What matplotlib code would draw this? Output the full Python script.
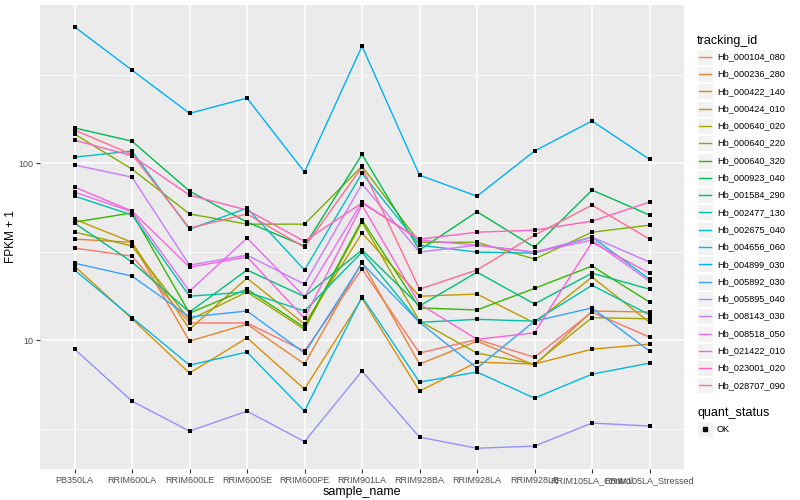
import numpy as np
import matplotlib
matplotlib.use("Agg")
import matplotlib.pyplot as plt
from matplotlib.lines import Line2D
from matplotlib.patches import Rectangle

plt.rcParams['font.family'] = ['Liberation Sans', 'DejaVu Sans']

samples = ["PB350LA", "RRIM600LA", "RRIM600LE", "RRIM600SE", "RRIM600PE", "RRIM901LA",
           "RRIM928BA", "RRIM928LA", "RRIM928LE", "RRIM105LA_Control", "RRIM105LA_Stressed"]

# FPKM + 1 per gene, one value per sample
hb_000104_080 = [33.1, 29.8, 12.5, 12.5, 8.67, 25.2, 8.45, 10.1, 8.0, 14.4, 10.4]
hb_000236_280 = [37.2, 35.7, 9.87, 12.3, 7.32, 27.6, 7.32, 9.87, 7.22, 14.6, 14.4]
hb_000422_140 = [26.2, 13.2, 6.51, 10.3, 5.29, 17.2, 5.15, 7.51, 7.32, 8.89, 9.49]
hb_000424_010 = [48.2, 35.7, 11.5, 22.4, 12.3, 40.2, 17.7, 18.2, 12.5, 22.7, 12.6]
hb_000640_020 = [40.8, 34.0, 13.0, 18.7, 11.5, 46.4, 12.8, 8.45, 7.32, 13.4, 13.2]
hb_000640_220 = [146, 92.5, 51.6, 45.2, 45.2, 96, 35.7, 35.7, 28.7, 40.7, 44.6]
hb_000640_320 = [46.4, 52.3, 14.2, 19.4, 11.8, 47.6, 15.2, 14.8, 19.6, 26.2, 16.4]
hb_000923_040 = [158, 133, 69.5, 46.4, 34.0, 112, 32.3, 53.1, 33.5, 70.4, 50.9]
hb_001584_290 = [45.8, 27.6, 14.4, 24.9, 17.6, 32.3, 15.6, 24.2, 16.0, 23.9, 19.4]
hb_002477_130 = [65.1, 50.9, 17.7, 18.7, 14.6, 31.4, 12.6, 13.1, 12.8, 20.4, 13.9]
hb_002675_040 = [108, 117, 42.3, 55.7, 24.9, 87.6, 34.4, 31.4, 31.0, 38.2, 22.1]
hb_004656_060 = [24.9, 13.4, 7.22, 8.56, 3.97, 17.6, 5.79, 6.60, 4.70, 6.42, 7.41]
hb_004899_030 = [589, 335, 191, 233, 89, 458, 85.5, 65, 117, 173, 105]
hb_005892_030 = [27.2, 23.0, 13.5, 14.6, 8.45, 27.2, 12.6, 6.95, 12.8, 15.2, 8.67]
hb_005895_040 = [8.9, 4.52, 3.06, 3.97, 2.67, 6.69, 2.83, 2.45, 2.52, 3.40, 3.27]
hb_008143_030 = [97.5, 83.3, 26.5, 30.2, 20.7, 76.2, 31.4, 34.4, 31.4, 38.2, 27.6]
hb_008518_050 = [68.6, 53.1, 18.9, 37.7, 17.6, 60.2, 36.7, 34.4, 31.4, 36.7, 21.5]
hb_021422_010 = [73.2, 53.6, 25.8, 29.5, 13.3, 57.9, 16.0, 10.1, 11.0, 35.7, 23.9]
hb_023001_020 = [134.9, 110, 65.9, 54.3, 36.2, 59.5, 37.2, 40.7, 41.8, 47.0, 60.2]
hb_028707_090 = [153.6, 112, 42.9, 51.6, 33.5, 94.9, 19.4, 24.9, 39.2, 57.9, 37.2]

tracking_ids = ["Hb_000104_080", "Hb_000236_280", "Hb_000422_140", "Hb_000424_010",
                "Hb_000640_020", "Hb_000640_220", "Hb_000640_320", "Hb_000923_040",
                "Hb_001584_290", "Hb_002477_130", "Hb_002675_040", "Hb_004656_060",
                "Hb_004899_030", "Hb_005892_030", "Hb_005895_040", "Hb_008143_030",
                "Hb_008518_050", "Hb_021422_010", "Hb_023001_020", "Hb_028707_090"]
series = [hb_000104_080, hb_000236_280, hb_000422_140, hb_000424_010, hb_000640_020,
          hb_000640_220, hb_000640_320, hb_000923_040, hb_001584_290, hb_002477_130,
          hb_002675_040, hb_004656_060, hb_004899_030, hb_005892_030, hb_005895_040,
          hb_008143_030, hb_008518_050, hb_021422_010, hb_023001_020, hb_028707_090]
colors = ["#F8766D", "#EA8331", "#D89000", "#C09B00", "#A3A500", "#7CAE00", "#39B600",
          "#00BB4E", "#00BF7D", "#00C1A3", "#00BFC4", "#00BAE0", "#00B0F6", "#35A2FF",
          "#9590FF", "#C77CFF", "#E76BF3", "#FA62DB", "#FF62BC", "#FF6C91"]

fig = plt.figure(figsize=(8, 5), dpi=100)
ax = fig.add_axes([0.05, 0.062, 0.805, 0.928])
ax.set_facecolor("#EBEBEB")

x = np.arange(len(samples))
for vals, c in zip(series, colors):
    ax.plot(x, vals, color=c, lw=1.0, zorder=2)
for vals in series:
    ax.scatter(x, vals, marker="s", s=9, color="black", zorder=3, linewidths=0)

ax.set_yscale("log")
ax.set_ylim(1.87, 782)
ax.set_xlim(-0.6, len(samples) - 0.4)
ax.set_yticks([10, 100])
ax.set_yticklabels(["10", "100"])
ax.set_yticks([10 ** 0.5, 10 ** 1.5, 10 ** 2.5], minor=True)
ax.set_yticklabels([], minor=True)
ax.set_xticks(x)
ax.set_xticklabels(samples)
ax.grid(which="major", color="white", lw=1.1, zorder=0)
ax.grid(which="minor", axis="y", color="white", lw=0.55, zorder=0)
ax.set_axisbelow(True)
for s in ax.spines.values():
    s.set_visible(False)
ax.tick_params(which="major", length=3, color="#333333", labelsize=6.5, labelcolor="#4D4D4D", pad=2)
ax.tick_params(which="minor", length=0)
ax.set_xlabel("sample_name", fontsize=9, labelpad=1)
ax.set_ylabel("FPKM + 1", fontsize=8.5, labelpad=1)

# legends
fig.text(697 / 800, 1 - 41 / 500, "tracking_id", fontsize=9, va="center", ha="left")
for i, (tid, c) in enumerate(zip(tracking_ids, colors)):
    yc = 56.7 + 17.3 * i
    fig.patches.append(Rectangle((697 / 800, 1 - (yc + 8) / 500), 16 / 800, 16 / 500,
                                 transform=fig.transFigure, facecolor="#F2F2F2", edgecolor="white", lw=0.8))
    fig.lines.append(Line2D([699 / 800, 711 / 800], [1 - yc / 500, 1 - yc / 500],
                            transform=fig.transFigure, color=c, lw=1.0))
    fig.text(717 / 800, 1 - yc / 500, tid, fontsize=6.6, va="center", ha="left")

fig.text(697 / 800, 1 - 413 / 500, "quant_status", fontsize=9, va="center", ha="left")
fig.patches.append(Rectangle((697 / 800, 1 - 437 / 500), 16 / 800, 16 / 500,
                             transform=fig.transFigure, facecolor="#F2F2F2", edgecolor="white", lw=0.8))
fig.lines.append(Line2D([705 / 800], [1 - 429 / 500], transform=fig.transFigure,
                        marker="s", markersize=2.8, color="black", lw=0))
fig.text(717 / 800, 1 - 429 / 500, "OK", fontsize=6.6, va="center", ha="left")

fig.savefig("out.png", dpi=100)
